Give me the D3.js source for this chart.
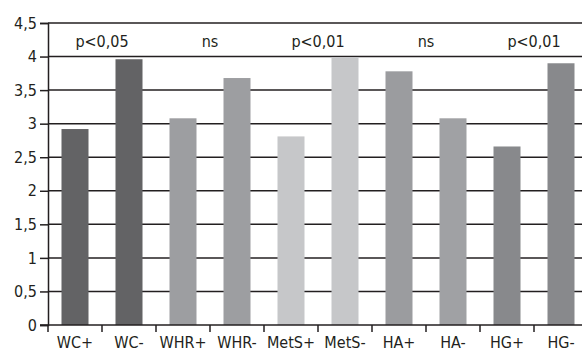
<!DOCTYPE html>
<html>
<head>
<meta charset="utf-8">
<script src="https://cdn.jsdelivr.net/npm/d3@7"></script>
<style>
  body { margin: 0; background: #fff; }
  text { font-family: "Liberation Sans Narrow", "DejaVu Sans Condensed", sans-serif; fill: #231f20; }
</style>
</head>
<body>
<div id="vis"></div>
<script>
var categories = ['WC+', 'WC-', 'WHR+', 'WHR-', 'MetS+', 'MetS-', 'HA+', 'HA-', 'HG+', 'HG-'];
var values = [2.92, 3.96, 3.08, 3.68, 2.81, 3.99, 3.78, 3.08, 2.66, 3.90];
var colors = ['#636365', '#636365', '#9d9ea1', '#9d9ea1', '#c6c7c9', '#c6c7c9', '#9b9c9f', '#a0a1a4', '#88898c', '#88898c'];
var pLabels = ['p<0,05', 'ns', 'p<0,01', 'ns', 'p<0,01'];
var yTicks = [0, 0.5, 1, 1.5, 2, 2.5, 3, 3.5, 4, 4.5];

var width = 582;
var height = 352;
var margin = { left: 48, right: 588, top: 23, bottom: 325 };

var svg = d3.select('#vis')
  .append('svg')
  .attr('width', width)
  .attr('height', height);

var x = d3.scaleBand()
  .domain(categories)
  .range([margin.left, margin.right])
  .paddingInner(0.5)
  .paddingOuter(0.25);

var y = d3.scaleLinear()
  .domain([0, 4.5])
  .range([margin.bottom, margin.top]);

var fmt = function (d) { return String(d).replace('.', ','); };

// gridlines
svg.append('g')
  .selectAll('line')
  .data(yTicks.filter(function (d) { return d > 0; }))
  .enter().append('line')
  .attr('x1', margin.left)
  .attr('x2', width)
  .attr('y1', function (d) { return y(d); })
  .attr('y2', function (d) { return y(d); })
  .attr('stroke', '#231f20')
  .attr('stroke-width', 1.5);

// bars
svg.append('g')
  .selectAll('rect')
  .data(values)
  .enter().append('rect')
  .attr('x', function (d, i) { return x(categories[i]); })
  .attr('width', x.bandwidth())
  .attr('y', function (d) { return y(d); })
  .attr('height', function (d) { return margin.bottom - y(d); })
  .attr('fill', function (d, i) { return colors[i]; });

// y axis
var yAxis = svg.append('g')
  .attr('transform', 'translate(' + margin.left + ',0)')
  .call(d3.axisLeft(y).tickValues(yTicks).tickFormat(fmt).tickSize(8).tickPadding(3));
yAxis.select('.domain').attr('stroke', '#231f20').attr('stroke-width', 1.5);
yAxis.selectAll('.tick line').attr('stroke', '#231f20').attr('stroke-width', 1.5);
yAxis.selectAll('.tick text').style('font-size', '16px').attr('fill', '#231f20');

// x axis with ticks at band boundaries
var xAxisG = svg.append('g');
xAxisG.append('line')
  .attr('x1', margin.left - 8).attr('x2', width)
  .attr('y1', margin.bottom).attr('y2', margin.bottom)
  .attr('stroke', '#231f20').attr('stroke-width', 1.5);

var step = x.step();
var bounds = d3.range(categories.length + 1).map(function (i) { return x(categories[0]) - x.paddingOuter() * step + i * step; });
xAxisG.selectAll('.xt')
  .data(bounds)
  .enter().append('line')
  .attr('class', 'xt')
  .attr('x1', function (d) { return d; })
  .attr('x2', function (d) { return d; })
  .attr('y1', margin.bottom)
  .attr('y2', margin.bottom + 7)
  .attr('stroke', '#231f20')
  .attr('stroke-width', 1.5);

xAxisG.selectAll('.xl')
  .data(categories)
  .enter().append('text')
  .attr('class', 'xl')
  .attr('x', function (d) { return x(d) + x.bandwidth() / 2; })
  .attr('y', 348)
  .attr('text-anchor', 'middle')
  .style('font-size', '16px')
  .text(function (d) { return d; });

// p-value labels over pairs
svg.selectAll('.pl')
  .data(pLabels)
  .enter().append('text')
  .attr('class', 'pl')
  .attr('x', function (d, i) { return bounds[2 * i + 1]; })
  .attr('y', 47)
  .attr('text-anchor', 'middle')
  .style('font-size', '16px')
  .text(function (d) { return d; });
</script>
</body>
</html>
